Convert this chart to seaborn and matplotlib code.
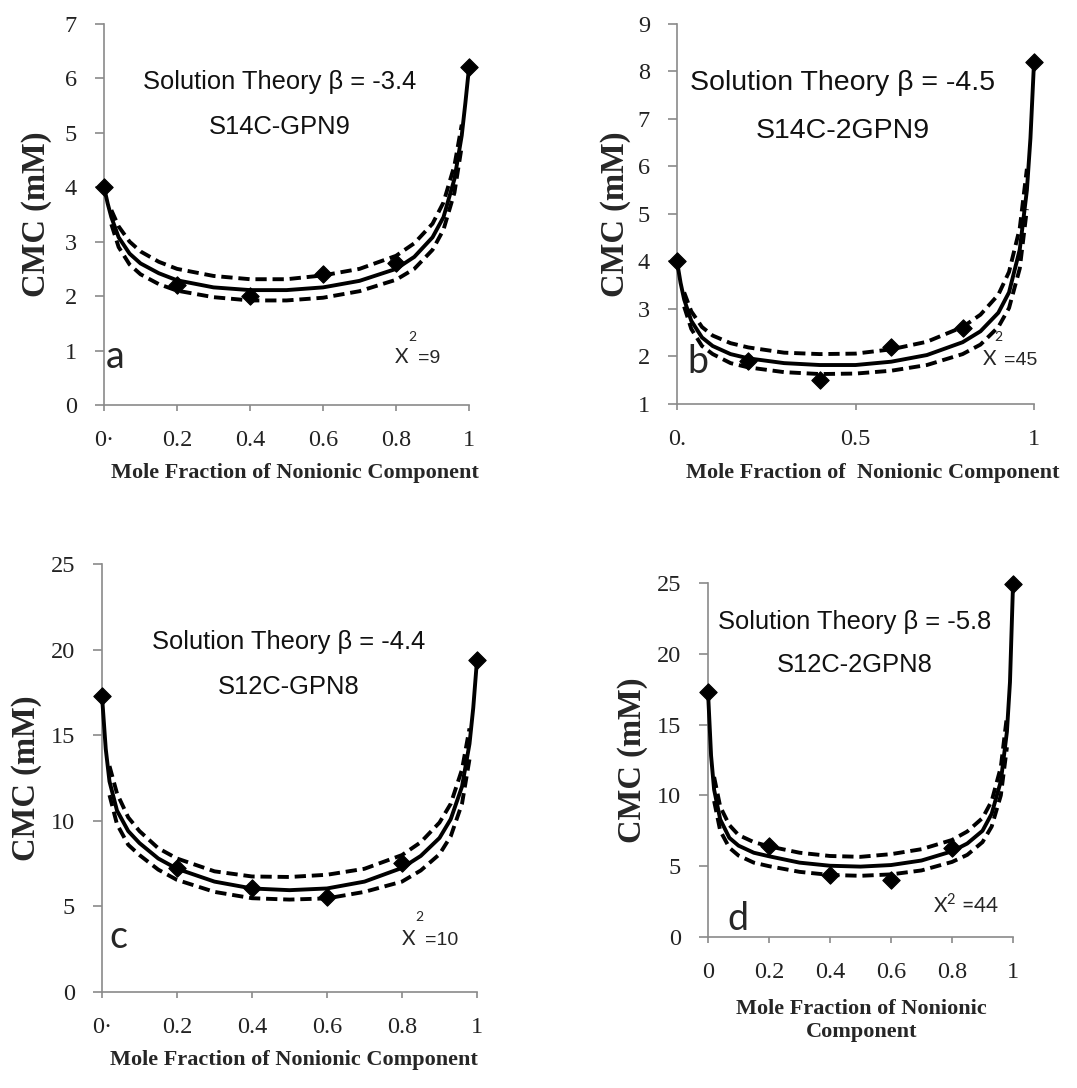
import matplotlib
matplotlib.use("Agg")
import matplotlib.pyplot as plt
import seaborn as sns
import pandas as pd

# Mole-fraction grids for the theory curves
X_CURVE = [0, .01, .02, .04, .07, .1, .15, .2, .3, .4, .5, .6, .7, .8, .85, .9, .93, .96, .98, .99, 1]
X_BAND = [.02, .04, .07, .1, .15, .2, .3, .4, .5, .6, .7, .8, .85, .9, .93, .96, .98]
X_MEAS = [0, 0.2, 0.4, 0.6, 0.8, 1.0]

# (a) S14C-GPN9
A_MEAS = [4.0, 2.2, 2.0, 2.4, 2.6, 6.2]
A_FIT = [4.0, 3.70, 3.45, 3.08, 2.78, 2.60, 2.42, 2.29, 2.16, 2.11, 2.11, 2.16, 2.28, 2.50, 2.72, 3.08, 3.45, 4.15, 4.95, 5.55, 6.2]
A_UP = [3.58, 3.28, 3.00, 2.82, 2.63, 2.50, 2.37, 2.31, 2.31, 2.38, 2.50, 2.74, 2.97, 3.33, 3.72, 4.40, 5.15]
A_LO = [3.32, 2.90, 2.58, 2.40, 2.22, 2.10, 1.98, 1.92, 1.92, 1.97, 2.09, 2.30, 2.50, 2.85, 3.22, 3.90, 4.75]

# (b) S14C-2GPN9
B_MEAS = [4.0, 1.9, 1.5, 2.2, 2.6, 8.2]
B_FIT = [4.0, 3.55, 3.20, 2.75, 2.40, 2.22, 2.05, 1.96, 1.86, 1.82, 1.82, 1.89, 2.03, 2.30, 2.53, 2.92, 3.35, 4.25, 5.50, 6.60, 8.2]
B_UP = [3.35, 2.95, 2.62, 2.44, 2.28, 2.19, 2.08, 2.05, 2.06, 2.15, 2.31, 2.62, 2.88, 3.30, 3.78, 4.70, 5.95]
B_LO = [3.05, 2.58, 2.22, 2.05, 1.86, 1.77, 1.67, 1.63, 1.64, 1.70, 1.82, 2.05, 2.25, 2.62, 3.02, 3.85, 5.10]

# (c) S12C-GPN8
C_MEAS = [17.3, 7.25, 6.1, 5.55, 7.55, 19.4]
C_FIT = [17.3, 14.2, 12.3, 10.6, 9.4, 8.7, 7.8, 7.2, 6.45, 6.05, 5.95, 6.05, 6.45, 7.25, 7.95, 9.0, 10.1, 12.0, 14.5, 16.6, 19.4]
C_UP = [13.2, 11.6, 10.2, 9.4, 8.4, 7.8, 7.05, 6.75, 6.72, 6.85, 7.2, 8.0, 8.75, 9.9, 11.0, 13.0, 15.4]
C_LO = [11.5, 9.8, 8.6, 8.0, 7.15, 6.55, 5.85, 5.48, 5.40, 5.47, 5.85, 6.45, 7.1, 8.05, 9.1, 11.0, 13.6]

# (d) S12C-2GPN8
D_MEAS = [17.3, 6.45, 4.35, 4.0, 6.25, 24.9]
D_FIT = [17.3, 12.8, 10.4, 8.3, 7.0, 6.45, 5.95, 5.7, 5.25, 5.03, 4.97, 5.08, 5.4, 6.05, 6.6, 7.5, 8.7, 11.0, 14.5, 18.0, 24.9]
D_UP = [11.3, 9.2, 7.9, 7.2, 6.7, 6.4, 5.95, 5.72, 5.66, 5.85, 6.2, 6.85, 7.45, 8.4, 9.6, 12.0, 15.6]
D_LO = [9.6, 7.5, 6.3, 5.75, 5.25, 5.0, 4.6, 4.38, 4.32, 4.42, 4.7, 5.3, 5.8, 6.7, 7.8, 10.0, 13.4]

BETA_LABELS = ["Solution Theory \u03b2 = -3.4", "Solution Theory \u03b2 = -4.5",
               "Solution Theory \u03b2 = -4.4", "Solution Theory \u03b2 = -5.8"]
SYSTEMS = ["S14C-GPN9", "S14C-2GPN9", "S12C-GPN8", "S12C-2GPN8"]
PANEL_TAGS = ["a", "b", "c", "d"]
CHI2 = ["=9", "=45", "=10", "=44"]
XLABELS = ["Mole Fraction of Nonionic Component",
           "Mole Fraction of  Nonionic Component",
           "Mole Fraction of Nonionic Component",
           "Mole Fraction of Nonionic\nComponent"]
YLABEL = "CMC (mM)"

A_XTICKS, A_XTL = [0, 0.2, 0.4, 0.6, 0.8, 1], ["0\u00b7", "0.2", "0.4", "0.6", "0.8", "1"]
B_XTICKS, B_XTL = [0, 0.5, 1], ["0.", "0.5", "1"]
C_XTICKS, C_XTL = [0, 0.2, 0.4, 0.6, 0.8, 1], ["0\u00b7", "0.2", "0.4", "0.6", "0.8", "1"]
D_XTICKS, D_XTL = [0, 0.2, 0.4, 0.6, 0.8, 1], ["0", "0.2", "0.4", "0.6", "0.8", "1"]

A_YTICKS = list(range(0, 8))
B_YTICKS = list(range(1, 10))
C_YTICKS = [0, 5, 10, 15, 20, 25]
D_YTICKS = [0, 5, 10, 15, 20, 25]

sns.set_style("white")
plt.rcParams["font.family"] = ["Liberation Serif", "DejaVu Serif"]

fig = plt.figure(figsize=(10.77, 10.88), dpi=100)

panels = [
    dict(rect=[0.0966, 0.6278, 0.3389, 0.3502], meas=A_MEAS, fit=A_FIT, up=A_UP, lo=A_LO,
         xt=A_XTICKS, xtl=A_XTL, yt=A_YTICKS, beta_fs=18.4,
         title_xy=(0.482, 0.848), sys_xy=(0.482, 0.730), tag_xy=(0.006, 0.097),
         chi_xy=(0.797, 0.110), sup_xy=(0.846, 0.178), eq_xy=(0.860, 0.110), tight=False,
         ylab_x=-0.184, xlab_xy=(0.523, -0.178)),
    dict(rect=[0.6286, 0.6287, 0.3315, 0.3493], meas=B_MEAS, fit=B_FIT, up=B_UP, lo=B_LO,
         xt=B_XTICKS, xtl=B_XTL, yt=B_YTICKS, beta_fs=20.5,
         title_xy=(0.464, 0.845), sys_xy=(0.464, 0.717), tag_xy=(0.030, 0.082),
         chi_xy=(0.857, 0.103), sup_xy=(0.899, 0.176), eq_xy=(0.917, 0.103), tight=False,
         ylab_x=-0.171, xlab_xy=(0.548, -0.182)),
    dict(rect=[0.0947, 0.0882, 0.3482, 0.3934], meas=C_MEAS, fit=C_FIT, up=C_UP, lo=C_LO,
         xt=C_XTICKS, xtl=C_XTL, yt=C_YTICKS, beta_fs=18.4,
         title_xy=(0.499, 0.818), sys_xy=(0.497, 0.713), tag_xy=(0.021, 0.103),
         chi_xy=(0.800, 0.110), sup_xy=(0.846, 0.175), eq_xy=(0.861, 0.110), tight=False,
         ylab_x=-0.200, xlab_xy=(0.513, -0.159)),
    dict(rect=[0.6574, 0.1388, 0.2832, 0.3254], meas=D_MEAS, fit=D_FIT, up=D_UP, lo=D_LO,
         xt=D_XTICKS, xtl=D_XTL, yt=D_YTICKS, beta_fs=18.4,
         title_xy=(0.482, 0.891), sys_xy=(0.482, 0.768), tag_xy=(0.062, 0.020),
         chi_xy=(0.738, 0.068), sup_xy=None, eq_xy=None, tight=True,
         ylab_x=-0.246, xlab_xy=(0.502, -0.235)),
]

AXIS_GREY = "#8a8a8a"
SANS = ["Liberation Sans", "DejaVu Sans"]
CALIBRI_LIKE = ["Lato", "DejaVu Sans"]
LW = 2.8

for i, p in enumerate(panels):
    ax = fig.add_axes(p["rect"])
    fit_df = pd.DataFrame({"x": X_CURVE, "cmc": p["fit"]})
    up_df = pd.DataFrame({"x": X_BAND, "cmc": p["up"]})
    lo_df = pd.DataFrame({"x": X_BAND, "cmc": p["lo"]})
    meas_df = pd.DataFrame({"x": X_MEAS, "cmc": p["meas"]})

    sns.lineplot(data=fit_df, x="x", y="cmc", ax=ax, color="black", lw=LW,
                 sort=False, estimator=None, clip_on=False, zorder=3)
    for band in (up_df, lo_df):
        sns.lineplot(data=band, x="x", y="cmc", ax=ax, color="black", lw=LW,
                     sort=False, estimator=None, zorder=3, clip_on=False)
        ax.lines[-1].set_linestyle((0, (2.9, 1.5)))
    sns.scatterplot(data=meas_df, x="x", y="cmc", ax=ax, marker="D", s=78,
                    color="black", edgecolor="black", linewidth=0.8,
                    zorder=5, clip_on=False)

    ax.set_xlim(0, 1)
    ax.set_ylim(p["yt"][0], p["yt"][-1])
    ax.set_xticks(p["xt"])
    ax.set_xticklabels(p["xtl"])
    ax.set_yticks(p["yt"])
    ax.set_yticklabels([str(v) for v in p["yt"]])

    for side in ("top", "right"):
        ax.spines[side].set_visible(False)
    for side in ("left", "bottom"):
        ax.spines[side].set_color(AXIS_GREY)
        ax.spines[side].set_linewidth(1.2)
    ax.tick_params(axis="y", direction="out", length=6.5, width=1.2, color=AXIS_GREY,
                   labelsize=17.5, pad=13, labelcolor="#222222", left=True)
    ax.tick_params(axis="x", direction="out", length=4, width=1.2, color=AXIS_GREY,
                   labelsize=17.5, pad=14, labelcolor="#222222", bottom=True)

    ax.set_xlabel("")
    ax.set_ylabel("")
    ax.text(p["ylab_x"], 0.5, YLABEL, transform=ax.transAxes, rotation=90,
            ha="center", va="center", fontsize=23.5, fontweight="bold")
    ax.text(p["xlab_xy"][0], p["xlab_xy"][1], XLABELS[i], transform=ax.transAxes,
            ha="center", va="center", fontsize=16, fontweight="bold",
            linespacing=1.2)

    ax.text(*p["title_xy"], BETA_LABELS[i], transform=ax.transAxes, ha="center",
            va="center", fontsize=p["beta_fs"], family=SANS, color="#111111")
    ax.text(*p["sys_xy"], SYSTEMS[i], transform=ax.transAxes, ha="center",
            va="center", fontsize=p["beta_fs"], family=SANS, color="#111111")
    ax.text(*p["tag_xy"], PANEL_TAGS[i], transform=ax.transAxes, ha="left",
            va="baseline", fontsize=27, family=CALIBRI_LIKE)
    if p["tight"]:
        ax.text(*p["chi_xy"], "X$^{\\mathregular{2}}$ " + CHI2[i], transform=ax.transAxes,
                ha="left", va="baseline", fontsize=15, family=CALIBRI_LIKE)
    else:
        ax.text(*p["chi_xy"], "X", transform=ax.transAxes, ha="left", va="baseline",
                fontsize=15, family=CALIBRI_LIKE)
        ax.text(*p["sup_xy"], "2", transform=ax.transAxes, ha="center", va="center",
                fontsize=10, family=CALIBRI_LIKE)
        ax.text(*p["eq_xy"], CHI2[i], transform=ax.transAxes, ha="left", va="baseline",
                fontsize=14, family=SANS, clip_on=False)

fig.savefig("out.png", dpi=100, facecolor="white")
